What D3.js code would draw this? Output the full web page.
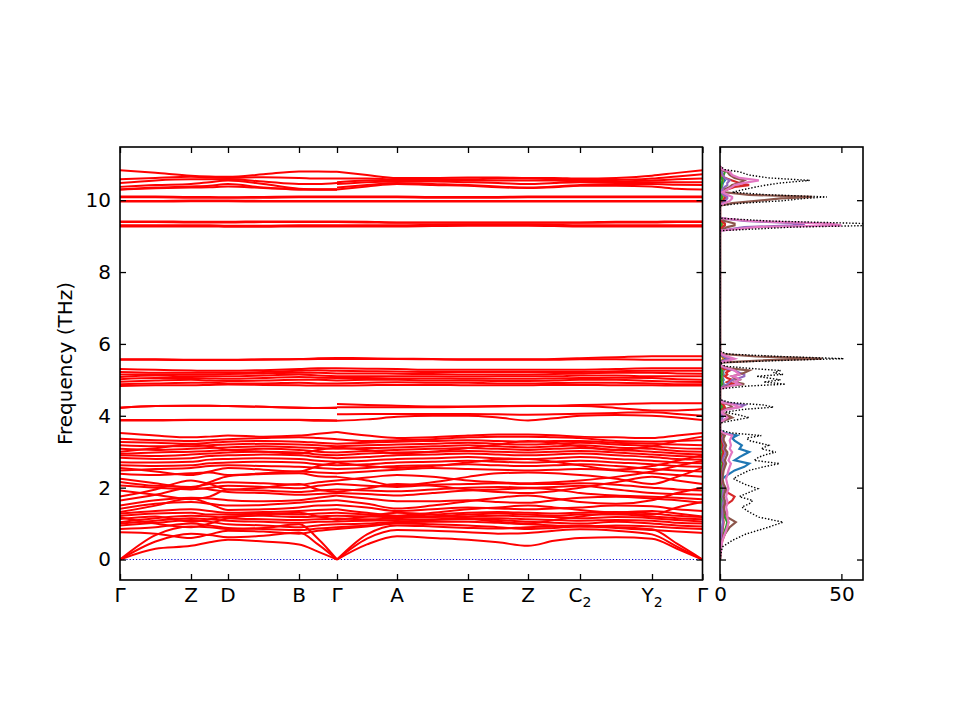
<!DOCTYPE html>
<html>
<head>
<meta charset="utf-8">
<script src="https://cdn.jsdelivr.net/npm/d3@7"></script>
<style>
  body { margin: 0; background: #fff; }
  text { font-family: "DejaVu Sans", sans-serif; }
</style>
</head>
<body>
<div id="chart"></div>
<script>
// high-symmetry path
const kLabels = [['Γ'], ['Z'], ['D'], ['B'], ['Γ'], ['A'], ['E'], ['Z'], ['C', '2'], ['Y', '2'], ['Γ']];
const kTicks = [0, 0.71, 1.08, 1.79, 2.17, 2.77, 3.48, 4.08, 4.60, 5.32, 5.825];
// sample points of the two path pieces (Γ-Z-D-B-Γ | Γ-A-E-Z-C2-Y2-Γ)
const kLeft = [0, 0.355, 0.71, 0.895, 1.08, 1.435, 1.79, 1.98, 2.17];
const kRight = [2.17, 2.47, 2.77, 3.125, 3.48, 3.78, 4.08, 4.34, 4.60, 4.96, 5.32, 5.57, 5.825];

// acoustic branches (THz)
const acousticL = [
    [0, 0.3, 0.38, 0.48, 0.55, 0.5, 0.42, 0.22, 0],
    [0, 0.5, 0.72, 0.68, 0.62, 0.66, 0.75, 0.42, 0],
    [0, 0.68, 0.92, 0.9, 0.85, 0.88, 0.98, 0.58, 0]
];
const acousticR = [
    [0, 0.42, 0.65, 0.6, 0.55, 0.48, 0.38, 0.52, 0.6, 0.62, 0.58, 0.3, 0],
    [0, 0.58, 0.82, 0.8, 0.76, 0.72, 0.74, 0.8, 0.84, 0.8, 0.7, 0.36, 0],
    [0, 0.7, 0.95, 0.92, 0.88, 0.86, 0.9, 0.92, 0.95, 0.9, 0.84, 0.44, 0]
];

// low optical bands
const lowL = [
    [0.76, 0.72, 0.6, 0.7, 0.8, 0.78, 0.72, 0.8, 0.85],
    [0.85, 0.9, 1.0, 0.95, 0.88, 0.85, 0.82, 0.86, 0.9],
    [0.95, 1.02, 1.1, 1.05, 0.98, 0.95, 0.9, 0.95, 0.98],
    [1.0, 1.08, 1.15, 1.12, 1.08, 1.05, 1.02, 1.05, 1.06],
    [1.04, 1.15, 1.22, 1.2, 1.15, 1.12, 1.1, 1.12, 1.14],
    [1.13, 1.2, 1.05, 1.12, 1.2, 1.22, 1.18, 1.2, 1.22],
    [1.18, 1.0, 0.9, 1.0, 1.15, 1.25, 1.3, 1.2, 1.1],
    [1.22, 1.28, 1.3, 1.25, 1.25, 1.28, 1.25, 1.28, 1.3],
    [1.28, 1.35, 1.4, 1.35, 1.3, 1.32, 1.35, 1.38, 1.4],
    [1.32, 1.5, 1.7, 1.55, 1.38, 1.4, 1.45, 1.5, 1.52],
    [1.41, 1.55, 1.6, 1.55, 1.5, 1.52, 1.58, 1.62, 1.65],
    [1.5, 1.65, 1.72, 1.7, 1.65, 1.62, 1.65, 1.72, 1.78],
    [1.64, 1.8, 2.0, 1.95, 1.88, 1.85, 1.8, 1.82, 1.85],
    [1.75, 1.95, 2.2, 2.1, 1.95, 2.0, 2.1, 1.95, 1.88],
    [1.92, 1.8, 1.68, 1.75, 1.95, 1.92, 1.88, 1.92, 1.95],
    [2.06, 2.0, 1.95, 2.0, 2.05, 2.02, 1.98, 2.05, 2.1],
    [2.16, 2.05, 2.02, 2.1, 2.15, 2.12, 2.08, 2.15, 2.2],
    [2.25, 2.12, 2.0, 2.15, 2.32, 2.38, 2.4, 2.32, 2.3],
    [2.39, 2.35, 2.4, 2.42, 2.35, 2.4, 2.45, 2.42, 2.4],
    [2.48, 2.52, 2.55, 2.6, 2.62, 2.6, 2.58, 2.55, 2.52],
    [2.55, 2.45, 2.35, 2.45, 2.55, 2.5, 2.45, 2.6, 2.7],
    [2.62, 2.6, 2.62, 2.68, 2.7, 2.72, 2.7, 2.65, 2.62],
    [2.71, 2.7, 2.72, 2.78, 2.8, 2.82, 2.8, 2.75, 2.72],
    [2.83, 2.8, 2.82, 2.88, 2.9, 2.92, 2.9, 2.85, 2.82],
    [2.9, 2.88, 2.92, 2.95, 2.98, 3.0, 2.98, 2.92, 2.9],
    [2.94, 2.98, 3.0, 3.02, 3.05, 3.08, 3.05, 3.0, 2.98],
    [3.0, 3.1, 3.2, 3.15, 3.05, 3.0, 2.95, 3.05, 3.12],
    [3.08, 3.05, 3.08, 3.1, 3.12, 3.15, 3.12, 3.1, 3.08],
    [3.18, 3.15, 3.15, 3.18, 3.2, 3.22, 3.2, 3.18, 3.15],
    [3.27, 3.25, 3.22, 3.25, 3.28, 3.3, 3.28, 3.25, 3.22],
    [3.36, 3.32, 3.3, 3.32, 3.35, 3.38, 3.4, 3.38, 3.35],
    [3.52, 3.45, 3.4, 3.42, 3.45, 3.42, 3.45, 3.5, 3.55]
];
const lowR = [
    [0.85, 0.92, 1.0, 0.98, 0.95, 0.9, 0.85, 0.88, 0.92, 0.88, 0.82, 0.78, 0.74],
    [0.9, 0.95, 1.02, 1.05, 1.05, 1.02, 0.98, 0.95, 0.92, 0.95, 0.92, 0.88, 0.85],
    [0.98, 1.0, 1.05, 1.1, 1.12, 1.1, 1.05, 1.02, 1.0, 1.05, 1.0, 0.95, 0.92],
    [1.06, 1.08, 1.1, 1.12, 1.15, 1.15, 1.12, 1.1, 1.08, 1.1, 1.08, 1.02, 1.0],
    [1.14, 1.12, 1.15, 1.18, 1.2, 1.22, 1.2, 1.18, 1.15, 1.18, 1.15, 1.1, 1.06],
    [1.22, 1.2, 1.18, 1.2, 1.25, 1.28, 1.25, 1.22, 1.25, 1.25, 1.2, 1.15, 1.12],
    [1.1, 1.2, 1.3, 1.25, 1.15, 1.05, 1.0, 1.1, 1.2, 1.3, 1.35, 1.28, 1.2],
    [1.3, 1.25, 1.2, 1.25, 1.3, 1.32, 1.3, 1.28, 1.3, 1.32, 1.28, 1.22, 1.18],
    [1.4, 1.3, 1.22, 1.3, 1.4, 1.45, 1.5, 1.45, 1.38, 1.3, 1.25, 1.45, 1.6],
    [1.52, 1.45, 1.35, 1.4, 1.45, 1.42, 1.4, 1.42, 1.45, 1.5, 1.48, 1.4, 1.35],
    [1.65, 1.55, 1.42, 1.5, 1.62, 1.72, 1.78, 1.7, 1.6, 1.55, 1.65, 1.85, 2.0],
    [1.78, 1.7, 1.62, 1.62, 1.65, 1.6, 1.58, 1.65, 1.72, 1.75, 1.7, 1.65, 1.58],
    [1.85, 1.82, 1.78, 1.85, 1.92, 1.95, 1.98, 1.95, 1.85, 1.78, 1.75, 1.72, 1.68],
    [1.88, 1.98, 2.1, 2.05, 1.95, 1.88, 1.85, 1.9, 2.0, 2.15, 2.3, 2.2, 2.1],
    [1.95, 1.92, 1.9, 1.95, 2.0, 2.02, 2.0, 2.02, 2.05, 1.95, 1.85, 1.82, 1.8],
    [2.1, 2.05, 2.02, 2.08, 2.1, 2.12, 2.1, 2.1, 2.12, 2.08, 2.0, 1.95, 1.92],
    [2.2, 2.28, 2.35, 2.3, 2.2, 2.15, 2.12, 2.15, 2.2, 2.3, 2.45, 2.6, 2.75],
    [2.3, 2.2, 2.05, 2.15, 2.3, 2.4, 2.42, 2.4, 2.35, 2.25, 2.1, 2.3, 2.55],
    [2.4, 2.45, 2.5, 2.55, 2.52, 2.5, 2.48, 2.5, 2.52, 2.48, 2.4, 2.35, 2.3],
    [2.52, 2.55, 2.6, 2.62, 2.65, 2.62, 2.6, 2.62, 2.65, 2.6, 2.52, 2.48, 2.45],
    [2.7, 2.6, 2.55, 2.6, 2.7, 2.78, 2.8, 2.72, 2.62, 2.5, 2.6, 2.75, 2.9],
    [2.62, 2.65, 2.7, 2.72, 2.75, 2.72, 2.7, 2.72, 2.75, 2.7, 2.65, 2.6, 2.58],
    [2.72, 2.75, 2.8, 2.82, 2.85, 2.82, 2.8, 2.82, 2.85, 2.8, 2.75, 2.7, 2.68],
    [2.82, 2.85, 2.9, 2.92, 2.95, 2.92, 2.9, 2.92, 2.95, 2.9, 2.85, 2.8, 2.78],
    [2.9, 2.95, 2.98, 3.0, 3.02, 3.0, 2.98, 3.0, 3.02, 2.98, 2.92, 2.88, 2.85],
    [2.98, 3.02, 3.05, 3.08, 3.1, 3.08, 3.05, 3.08, 3.1, 3.05, 3.0, 2.95, 2.92],
    [3.12, 3.05, 2.95, 3.0, 3.1, 3.2, 3.3, 3.25, 3.15, 3.05, 3.15, 3.3, 3.42],
    [3.08, 3.1, 3.12, 3.15, 3.18, 3.15, 3.12, 3.15, 3.18, 3.12, 3.08, 3.02, 3.0],
    [3.15, 3.18, 3.2, 3.22, 3.25, 3.22, 3.2, 3.22, 3.25, 3.2, 3.15, 3.1, 3.08],
    [3.22, 3.25, 3.28, 3.3, 3.32, 3.3, 3.28, 3.3, 3.3, 3.25, 3.22, 3.2, 3.18],
    [3.35, 3.3, 3.32, 3.35, 3.4, 3.42, 3.42, 3.4, 3.38, 3.3, 3.28, 3.3, 3.32],
    [3.55, 3.45, 3.38, 3.4, 3.45, 3.48, 3.48, 3.46, 3.42, 3.4, 3.38, 3.45, 3.52]
];

// bands between 3.8 and 5.7 THz
const midL = [
    [3.87, 3.87, 3.88, 3.88, 3.88, 3.88, 3.88, 3.86, 3.86],
    [3.88, 3.88, 3.89, 3.89, 3.89, 3.89, 3.89, 3.88, 3.87],
    [4.22, 4.27, 4.28, 4.28, 4.27, 4.25, 4.22, 4.22, 4.22],
    [4.23, 4.27, 4.28, 4.28, 4.27, 4.25, 4.23, 4.22, 4.23],
    [4.83, 4.85, 4.85, 4.86, 4.87, 4.86, 4.85, 4.84, 4.84],
    [4.88, 4.9, 4.92, 4.92, 4.9, 4.9, 4.92, 4.9, 4.9],
    [4.95, 4.98, 5.0, 4.98, 4.97, 4.98, 5.0, 5.0, 4.98],
    [5.02, 5.05, 5.05, 5.04, 5.03, 5.05, 5.08, 5.06, 5.05],
    [5.08, 5.12, 5.1, 5.1, 5.1, 5.12, 5.15, 5.12, 5.1],
    [5.15, 5.15, 5.15, 5.15, 5.16, 5.18, 5.2, 5.2, 5.18],
    [5.22, 5.2, 5.2, 5.2, 5.2, 5.22, 5.25, 5.27, 5.25],
    [5.3, 5.28, 5.26, 5.25, 5.25, 5.27, 5.3, 5.32, 5.32],
    [5.56, 5.56, 5.55, 5.55, 5.55, 5.56, 5.57, 5.58, 5.58],
    [5.57, 5.57, 5.56, 5.56, 5.56, 5.57, 5.58, 5.6, 5.61]
];
const midR = [
    [3.86, 3.9, 3.97, 4.0, 4.0, 3.95, 3.87, 3.93, 4.0, 4.02, 4.0, 3.95, 3.88],
    [4.04, 4.05, 4.05, 4.05, 4.05, 4.04, 4.03, 4.04, 4.06, 4.08, 4.1, 4.05, 4.0],
    [4.24, 4.24, 4.24, 4.24, 4.25, 4.26, 4.27, 4.27, 4.27, 4.22, 4.15, 4.15, 4.18],
    [4.33, 4.3, 4.28, 4.26, 4.26, 4.27, 4.28, 4.28, 4.3, 4.32, 4.35, 4.35, 4.35],
    [4.84, 4.85, 4.86, 4.86, 4.85, 4.85, 4.85, 4.86, 4.86, 4.85, 4.85, 4.84, 4.84],
    [4.9, 4.92, 4.93, 4.92, 4.92, 4.9, 4.9, 4.91, 4.92, 4.92, 4.9, 4.88, 4.88],
    [4.98, 5.0, 5.0, 4.98, 4.98, 4.97, 4.97, 4.98, 5.0, 5.0, 4.97, 4.95, 4.94],
    [5.05, 5.05, 5.04, 5.04, 5.03, 5.03, 5.03, 5.04, 5.05, 5.06, 5.05, 5.02, 5.0],
    [5.1, 5.1, 5.1, 5.1, 5.09, 5.1, 5.1, 5.1, 5.12, 5.12, 5.1, 5.1, 5.1],
    [5.18, 5.18, 5.17, 5.16, 5.15, 5.15, 5.15, 5.16, 5.18, 5.2, 5.2, 5.18, 5.17],
    [5.25, 5.24, 5.23, 5.22, 5.22, 5.22, 5.22, 5.22, 5.22, 5.24, 5.25, 5.25, 5.25],
    [5.32, 5.31, 5.3, 5.28, 5.28, 5.28, 5.28, 5.28, 5.28, 5.3, 5.32, 5.32, 5.32],
    [5.58, 5.58, 5.58, 5.57, 5.56, 5.56, 5.56, 5.56, 5.57, 5.57, 5.56, 5.56, 5.56],
    [5.61, 5.6, 5.59, 5.58, 5.57, 5.57, 5.57, 5.58, 5.6, 5.63, 5.66, 5.66, 5.66]
];

// bands above 9 THz
const highL = [
    [10.83, 10.76, 10.68, 10.66, 10.65, 10.72, 10.8, 10.8, 10.79],
    [10.58, 10.62, 10.65, 10.63, 10.62, 10.64, 10.62, 10.6, 10.6],
    [10.48, 10.55, 10.58, 10.58, 10.58, 10.52, 10.45, 10.45, 10.48],
    [10.37, 10.42, 10.45, 10.5, 10.55, 10.45, 10.32, 10.3, 10.3],
    [10.3, 10.35, 10.38, 10.4, 10.45, 10.35, 10.3, 10.3, 10.3],
    [10.3, 10.33, 10.35, 10.36, 10.38, 10.34, 10.3, 10.3, 10.3],
    [10.1, 10.1, 10.09, 10.09, 10.08, 10.09, 10.1, 10.1, 10.1],
    [10.08, 10.08, 10.07, 10.07, 10.07, 10.07, 10.08, 10.08, 10.08],
    [9.98, 9.98, 9.99, 9.99, 9.99, 9.98, 9.98, 9.98, 9.98],
    [9.96, 9.96, 9.97, 9.97, 9.97, 9.96, 9.96, 9.96, 9.96],
    [9.41, 9.41, 9.4, 9.4, 9.4, 9.41, 9.41, 9.41, 9.41],
    [9.39, 9.39, 9.38, 9.38, 9.38, 9.39, 9.39, 9.39, 9.39],
    [9.3, 9.3, 9.3, 9.3, 9.29, 9.29, 9.3, 9.3, 9.3],
    [9.27, 9.27, 9.27, 9.27, 9.26, 9.26, 9.27, 9.27, 9.27]
];
const highR = [
    [10.79, 10.7, 10.62, 10.62, 10.63, 10.63, 10.62, 10.62, 10.6, 10.62, 10.68, 10.76, 10.83],
    [10.6, 10.6, 10.58, 10.58, 10.58, 10.6, 10.6, 10.58, 10.56, 10.56, 10.6, 10.66, 10.72],
    [10.5, 10.55, 10.56, 10.55, 10.55, 10.55, 10.55, 10.55, 10.52, 10.52, 10.55, 10.58, 10.6],
    [10.45, 10.5, 10.52, 10.52, 10.5, 10.48, 10.45, 10.48, 10.5, 10.5, 10.5, 10.5, 10.5],
    [10.35, 10.42, 10.48, 10.45, 10.42, 10.38, 10.35, 10.38, 10.42, 10.45, 10.45, 10.43, 10.42],
    [10.3, 10.38, 10.45, 10.42, 10.4, 10.36, 10.34, 10.36, 10.4, 10.4, 10.38, 10.32, 10.3],
    [10.1, 10.1, 10.1, 10.09, 10.09, 10.09, 10.1, 10.1, 10.1, 10.1, 10.1, 10.1, 10.1],
    [10.08, 10.08, 10.08, 10.07, 10.07, 10.07, 10.08, 10.08, 10.08, 10.08, 10.08, 10.08, 10.08],
    [9.98, 9.98, 9.98, 9.98, 9.98, 9.98, 9.98, 9.98, 9.98, 9.98, 9.98, 9.98, 9.98],
    [9.96, 9.96, 9.96, 9.96, 9.96, 9.96, 9.96, 9.96, 9.96, 9.96, 9.96, 9.96, 9.96],
    [9.41, 9.4, 9.38, 9.38, 9.38, 9.38, 9.38, 9.38, 9.38, 9.4, 9.4, 9.41, 9.41],
    [9.39, 9.38, 9.37, 9.37, 9.37, 9.37, 9.37, 9.37, 9.37, 9.38, 9.38, 9.39, 9.39],
    [9.3, 9.3, 9.3, 9.31, 9.32, 9.32, 9.32, 9.31, 9.3, 9.3, 9.3, 9.3, 9.3],
    [9.27, 9.27, 9.27, 9.28, 9.29, 9.29, 9.29, 9.28, 9.27, 9.27, 9.27, 9.27, 9.27]
];

// density of states
const dosFreq = [0, 0.2, 0.35, 0.53, 0.71, 0.9, 1.04, 1.18, 1.32, 1.46, 1.55, 1.64, 1.75, 1.87, 1.97, 2.1, 2.25, 2.35, 2.48, 2.58,
    2.67, 2.76, 2.85, 2.92, 2.99, 3.08, 3.18, 3.31, 3.38, 3.45, 3.52, 3.6,
    3.8, 3.88, 3.95, 4.02, 4.1, 4.18, 4.24, 4.3, 4.37, 4.45,
    4.75, 4.83, 4.88, 4.94, 5.0, 5.05, 5.1, 5.15, 5.2, 5.26, 5.31, 5.38, 5.48, 5.55, 5.59, 5.65, 5.72, 5.8,
    9.15, 9.25, 9.3, 9.35, 9.42, 9.5,
    9.85, 9.92, 9.98, 10.05, 10.09, 10.15, 10.22, 10.3, 10.37, 10.42, 10.48, 10.55, 10.62, 10.7, 10.79, 10.85, 10.95];
const totalDos = [0, 0.5, 1, 5, 10.7, 20, 26, 16, 12, 9, 12, 13.5, 8, 12, 15.6, 10, 5.5, 8, 12, 18,
    24.5, 14, 16, 19, 23, 17, 20, 12, 11, 17, 5, 0,
    0, 6, 12, 8, 2, 10, 22, 18, 4, 0,
    0, 12, 27, 18, 25, 20, 15, 26, 22, 25, 14, 2, 0, 30, 51, 25, 3, 0,
    0, 30, 65, 60, 20, 0,
    0, 10, 25, 35, 44, 20, 5, 10, 15, 19, 25, 37, 20, 12, 8, 2, 0];
const pdosBlue = [0, 0.1, 0.2, 0.5, 0.8, 1, 1.2, 1, 0.8, 0.8, 1, 1, 0.8, 1, 1.2, 1, 1, 3, 6, 10, 12, 6, 8, 10, 12, 8, 9, 6, 5, 7, 2, 0,
    0, 0.5, 1, 0.8, 0.2, 0.8, 1.5, 1.2, 0.3, 0,
    0, 0.8, 1.5, 1, 1.5, 1.2, 1, 1.5, 1.2, 1.5, 0.8, 0.1, 0, 1, 2, 1, 0.1, 0,
    0, 1, 2, 2, 0.8, 0,
    0, 0.5, 1, 1.5, 2, 1, 0.2, 0.5, 0.8, 1, 1.2, 2, 1, 0.6, 0.4, 0.1, 0];
const pdosOrange = [0, 0.2, 0.4, 1, 2, 3, 3.5, 2, 1.5, 1, 1.2, 1.2, 0.8, 1, 1.2, 0.8, 0.5, 0.5, 0.8, 1, 1.2, 0.8, 0.8, 1, 1.2, 0.8, 1, 0.6, 0.5, 0.8, 0.2, 0,
    0, 0.3, 0.6, 0.4, 0.1, 0.5, 1, 0.8, 0.2, 0,
    0, 0.5, 1, 0.6, 1, 0.8, 0.6, 1, 0.8, 1, 0.5, 0.1, 0, 1, 1.5, 0.8, 0.1, 0,
    0, 0.5, 1, 1, 0.4, 0,
    0, 0.3, 0.8, 1, 1.2, 0.6, 0.1, 0.3, 0.5, 0.6, 0.8, 1.2, 0.6, 0.4, 0.3, 0.1, 0];
const pdosGreen = [0, 0.2, 0.4, 0.8, 1.5, 2.5, 3, 2, 1.2, 0.8, 1, 1, 0.6, 0.8, 1, 0.6, 0.4, 0.5, 0.6, 0.8, 1, 0.6, 0.6, 0.8, 1, 0.6, 0.8, 0.5, 0.4, 0.6, 0.2, 0,
    0, 0.2, 0.5, 0.3, 0.1, 0.4, 0.8, 0.6, 0.1, 0,
    0, 0.4, 0.8, 0.5, 0.8, 0.6, 0.5, 0.8, 0.6, 0.8, 0.4, 0.1, 0, 1.5, 3, 1.2, 0.1, 0,
    0, 0.3, 0.6, 0.6, 0.2, 0,
    0, 0.2, 0.5, 0.6, 0.8, 0.4, 0.1, 0.2, 0.4, 0.5, 0.8, 1, 0.8, 1.5, 2, 0.5, 0];
const pdosRed = [0, 0.1, 0.2, 0.4, 0.8, 1.2, 1.5, 1.2, 1, 1.5, 3, 5, 6, 3, 1.5, 1, 0.6, 0.8, 1, 1.2, 1.5, 1, 1, 1.2, 1.5, 1, 1.2, 0.8, 0.6, 1, 0.3, 0,
    0, 1.5, 4, 2, 0.4, 1, 2, 1.5, 0.3, 0,
    0, 2, 6, 3, 5, 3, 2, 3, 2.5, 4, 1.5, 0.2, 0, 2, 4, 1.5, 0.2, 0,
    0, 1, 2, 2, 0.6, 0,
    0, 0.5, 1.2, 2, 2.5, 1.5, 0.5, 3, 6, 12, 8, 5, 2, 1, 0.5, 0.1, 0];
const pdosPurple = [0, 0.1, 0.2, 0.4, 0.6, 1, 1.2, 1, 1, 1, 1.2, 1.5, 1, 1.2, 1.5, 1.2, 0.8, 1, 1.2, 1.5, 2, 1.2, 1.5, 2, 2.5, 1.5, 2, 1.2, 1, 1.5, 0.5, 0,
    0, 0.5, 1, 0.8, 0.2, 2, 8, 10, 2, 0,
    0, 1.5, 3, 4, 5, 8, 10, 10, 8, 6, 3, 0.5, 0, 2, 4, 1.5, 0.2, 0,
    0, 10, 30, 35, 10, 0,
    0, 1, 2, 3, 3, 1.5, 0.5, 1, 2, 3, 3, 4, 2, 1, 0.8, 0.2, 0];
const pdosBrown = [0, 0.1, 0.3, 0.8, 2, 4, 6.5, 3, 2, 1.5, 2, 2, 1.5, 2, 2.5, 1.5, 1, 1.2, 1.5, 2, 2.5, 2, 2.5, 3, 3, 2, 2.5, 1.5, 1.5, 2, 0.5, 0,
    0, 2, 5, 3, 0.5, 2, 5, 4, 1, 0,
    0, 3, 10, 6, 8, 6, 5, 8, 10, 12, 5, 0.5, 0, 20, 42, 15, 1, 0,
    0, 3, 6, 6, 2, 0,
    0, 5, 15, 25, 38, 12, 2, 2, 4, 5, 8, 10, 6, 4, 3, 0.5, 0];
const pdosPink = [0, 0.2, 0.5, 1, 2, 3, 3.5, 3, 3, 2.5, 3, 3, 2.5, 3, 3.5, 3, 2.5, 3, 3.5, 4, 4.5, 3.5, 4, 4.5, 5, 4, 4.5, 4, 4.5, 5, 1.5, 0,
    0, 1.5, 3, 2, 0.5, 3, 8, 6, 1, 0,
    0, 4, 8, 6, 8, 7, 5, 8, 7, 6, 4, 0.5, 0, 4, 6, 3, 0.5, 0,
    0, 15, 50, 45, 12, 0,
    0, 2, 4, 5, 5, 3, 1, 3, 5, 6, 10, 16, 8, 5, 4, 1, 0];
const pdosList = [pdosBlue, pdosOrange, pdosGreen, pdosRed, pdosPurple, pdosBrown, pdosPink];
const pdosColors = ['#1f77b4', '#ff7f0e', '#2ca02c', '#d62728', '#9467bd', '#8c564b', '#e377c2'];

const freqTicks = [0, 2, 4, 6, 8, 10];
const dosTicks = [0, 50];

const W = 960, H = 720;
const yTop = 147, yBottom = 580;
const fontSize = 20;
const svg = d3.select('#chart').append('svg').attr('width', W).attr('height', H);

const x = d3.scaleLinear().domain([0, 5.825]).range([120, 702.5]);
const y = d3.scaleLinear().domain([-0.57, 11.48]).range([yBottom, yTop]);
const xd = d3.scaleLinear().domain([0, 58.9]).range([720, 863]);

const defs = svg.append('defs');
defs.append('clipPath').attr('id', 'clipBand')
    .append('rect').attr('x', x(0)).attr('y', yTop).attr('width', x(5.825) - x(0)).attr('height', yBottom - yTop);
defs.append('clipPath').attr('id', 'clipDos')
    .append('rect').attr('x', xd(0)).attr('y', yTop).attr('width', xd(58.9) - xd(0)).attr('height', yBottom - yTop);

// ---- band structure ----
const bandG = svg.append('g').attr('clip-path', 'url(#clipBand)');

bandG.append('line')
    .attr('x1', x(0)).attr('x2', x(5.825))
    .attr('y1', y(0)).attr('y2', y(0))
    .attr('stroke', '#0000dd').attr('stroke-width', 1.2)
    .attr('stroke-dasharray', '1.2,2');

const bandLine = ks => d3.line()
    .x((d, i) => x(ks[i]))
    .y(d => y(d))
    .curve(d3.curveMonotoneX);

const allL = [...acousticL, ...lowL, ...midL, ...highL];
const allR = [...acousticR, ...lowR, ...midR, ...highR];

bandG.selectAll('path.bl').data(allL).join('path')
    .attr('class', 'bl')
    .attr('d', bandLine(kLeft))
    .attr('fill', 'none').attr('stroke', '#ff0000').attr('stroke-width', 2);
bandG.selectAll('path.br').data(allR).join('path')
    .attr('class', 'br')
    .attr('d', bandLine(kRight))
    .attr('fill', 'none').attr('stroke', '#ff0000').attr('stroke-width', 2);

// ---- DOS ----
const dosG = svg.append('g').attr('clip-path', 'url(#clipDos)');
const dosLine = d3.line()
    .x(d => xd(d))
    .y((d, i) => y(dosFreq[i]));

pdosList.forEach((p, j) => {
    dosG.append('path')
        .attr('d', dosLine(p))
        .attr('fill', 'none')
        .attr('stroke', pdosColors[j])
        .attr('stroke-width', 2.2);
});
dosG.append('path')
    .attr('d', dosLine(totalDos))
    .attr('fill', 'none')
    .attr('stroke', '#000')
    .attr('stroke-width', 1.4)
    .attr('stroke-dasharray', '1.4,1.8');

// ---- axes ----
const styleAxis = g => {
    g.select('.domain').remove();
    g.selectAll('.tick line').attr('stroke', '#000').attr('stroke-width', 1.3);
    g.selectAll('.tick text').attr('font-size', fontSize).attr('font-family', 'DejaVu Sans').attr('fill', '#000');
};

// band panel
svg.append('g').attr('transform', `translate(0,${yBottom})`)
    .call(d3.axisBottom(x).tickValues(kTicks).tickSize(-6).tickFormat(''))
    .call(styleAxis);
svg.append('g').attr('transform', `translate(0,${yTop})`)
    .call(d3.axisTop(x).tickValues(kTicks).tickSize(-6).tickFormat(''))
    .call(styleAxis);
svg.append('g').attr('transform', `translate(${x(0)},0)`)
    .call(d3.axisLeft(y).tickValues(freqTicks).tickSize(-6).tickPadding(9).tickFormat(d3.format('d')))
    .call(styleAxis);
svg.append('g').attr('transform', `translate(${x(5.825)},0)`)
    .call(d3.axisRight(y).tickValues(freqTicks).tickSize(-6).tickFormat(''))
    .call(styleAxis);

// k-point labels with subscripts
const kText = svg.append('g')
    .attr('font-size', fontSize).attr('font-family', 'DejaVu Sans').attr('text-anchor', 'middle');
kLabels.forEach((lab, i) => {
    const t = kText.append('text').attr('x', x(kTicks[i])).attr('y', yBottom + 22);
    t.append('tspan').text(lab[0]);
    if (lab.length > 1) {
        t.append('tspan').attr('font-size', 14).attr('dy', 5).text(lab[1]);
    }
});

svg.append('text')
    .attr('transform', `translate(72,${(yTop + yBottom) / 2}) rotate(-90)`)
    .attr('text-anchor', 'middle')
    .attr('font-size', fontSize)
    .text('Frequency (THz)');

// DOS panel
svg.append('g').attr('transform', `translate(0,${yBottom})`)
    .call(d3.axisBottom(xd).tickValues(dosTicks).tickSize(-6).tickPadding(7).tickFormat(d3.format('d')))
    .call(styleAxis);
svg.append('g').attr('transform', `translate(0,${yTop})`)
    .call(d3.axisTop(xd).tickValues(dosTicks).tickSize(-6).tickFormat(''))
    .call(styleAxis);
svg.append('g').attr('transform', `translate(${xd(0)},0)`)
    .call(d3.axisLeft(y).tickValues(freqTicks).tickSize(-6).tickFormat(''))
    .call(styleAxis);
svg.append('g').attr('transform', `translate(${xd(58.9)},0)`)
    .call(d3.axisRight(y).tickValues(freqTicks).tickSize(-6).tickFormat(''))
    .call(styleAxis);

// frames
svg.append('rect')
    .attr('x', x(0)).attr('y', yTop).attr('width', x(5.825) - x(0)).attr('height', yBottom - yTop)
    .attr('fill', 'none').attr('stroke', '#000').attr('stroke-width', 1.6);
svg.append('rect')
    .attr('x', xd(0)).attr('y', yTop).attr('width', xd(58.9) - xd(0)).attr('height', yBottom - yTop)
    .attr('fill', 'none').attr('stroke', '#000').attr('stroke-width', 1.6);
</script>
</body>
</html>
